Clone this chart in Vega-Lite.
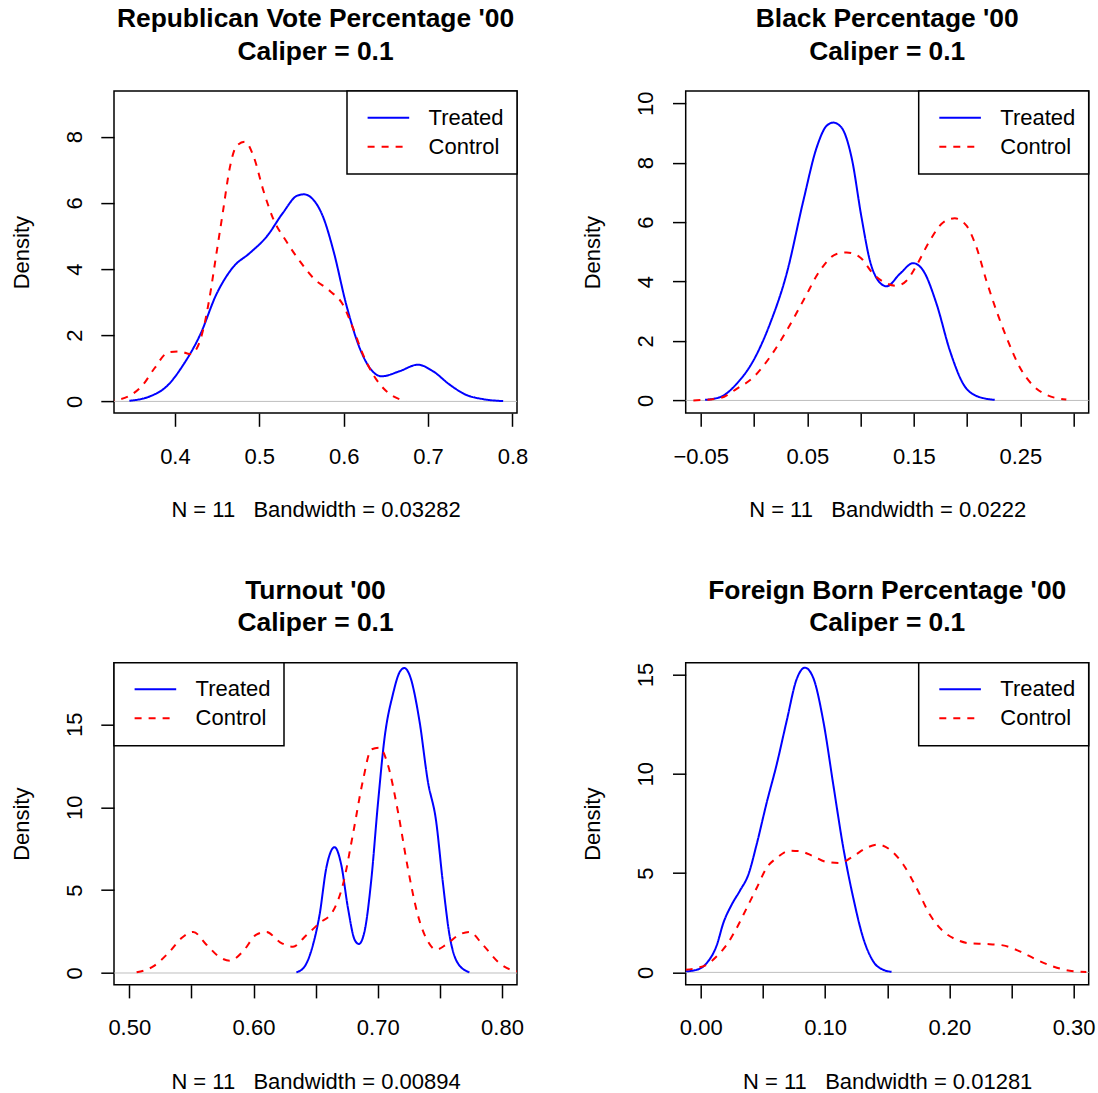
{
"$schema": "https://vega.github.io/schema/vega-lite/v6.json",
"padding": {"left": 9, "top": 5.1, "right": 8, "bottom": 0},
"datasets": {
"p1": [
{"g":"Treated","x":0.346,"y":0.02},{"g":"Treated","x":0.370,"y":0.15},{"g":"Treated","x":0.390,"y":0.45},{"g":"Treated","x":0.410,"y":1.11},{"g":"Treated","x":0.430,"y":2.02},{"g":"Treated","x":0.449,"y":3.23},{"g":"Treated","x":0.469,"y":4.06},{"g":"Treated","x":0.489,"y":4.49},{"g":"Treated","x":0.509,"y":4.99},{"g":"Treated","x":0.528,"y":5.70},{"g":"Treated","x":0.545,"y":6.22},{"g":"Treated","x":0.553,"y":6.26},{"g":"Treated","x":0.562,"y":6.15},{"g":"Treated","x":0.576,"y":5.55},{"g":"Treated","x":0.588,"y":4.54},{"g":"Treated","x":0.603,"y":2.93},{"g":"Treated","x":0.619,"y":1.61},{"g":"Treated","x":0.631,"y":1.01},{"g":"Treated","x":0.645,"y":0.76},{"g":"Treated","x":0.666,"y":0.91},{"g":"Treated","x":0.688,"y":1.11},{"g":"Treated","x":0.706,"y":0.91},{"g":"Treated","x":0.726,"y":0.50},{"g":"Treated","x":0.745,"y":0.20},{"g":"Treated","x":0.765,"y":0.07},{"g":"Treated","x":0.789,"y":0.01},
{"g":"Control","x":0.320,"y":0.01},{"g":"Control","x":0.327,"y":0.03},{"g":"Control","x":0.347,"y":0.18},{"g":"Control","x":0.362,"y":0.50},{"g":"Control","x":0.376,"y":1.01},{"g":"Control","x":0.392,"y":1.48},{"g":"Control","x":0.406,"y":1.51},{"g":"Control","x":0.418,"y":1.43},{"g":"Control","x":0.426,"y":1.61},{"g":"Control","x":0.434,"y":2.22},{"g":"Control","x":0.441,"y":3.13},{"g":"Control","x":0.449,"y":4.44},{"g":"Control","x":0.457,"y":5.75},{"g":"Control","x":0.465,"y":7.06},{"g":"Control","x":0.473,"y":7.72},{"g":"Control","x":0.483,"y":7.85},{"g":"Control","x":0.493,"y":7.42},{"g":"Control","x":0.505,"y":6.36},{"g":"Control","x":0.516,"y":5.55},{"g":"Control","x":0.532,"y":4.84},{"g":"Control","x":0.548,"y":4.24},{"g":"Control","x":0.564,"y":3.73},{"g":"Control","x":0.584,"y":3.33},{"g":"Control","x":0.599,"y":2.93},{"g":"Control","x":0.611,"y":2.22},{"g":"Control","x":0.623,"y":1.41},{"g":"Control","x":0.635,"y":0.81},{"g":"Control","x":0.651,"y":0.30},{"g":"Control","x":0.666,"y":0.07},{"g":"Control","x":0.674,"y":0.02}
],
"p2": [
{"g":"Treated","x":-0.0459,"y":0.02},{"g":"Treated","x":-0.0319,"y":0.11},{"g":"Treated","x":-0.0163,"y":0.56},{"g":"Treated","x":-0.0006,"y":1.34},{"g":"Treated","x":0.0150,"y":2.58},{"g":"Treated","x":0.0306,"y":4.26},{"g":"Treated","x":0.0463,"y":6.72},{"g":"Treated","x":0.0588,"y":8.51},{"g":"Treated","x":0.0681,"y":9.24},{"g":"Treated","x":0.0744,"y":9.35},{"g":"Treated","x":0.0822,"y":9.18},{"g":"Treated","x":0.0916,"y":8.17},{"g":"Treated","x":0.1009,"y":6.16},{"g":"Treated","x":0.1088,"y":4.70},{"g":"Treated","x":0.1166,"y":4.03},{"g":"Treated","x":0.1244,"y":3.84},{"g":"Treated","x":0.1369,"y":4.26},{"g":"Treated","x":0.1494,"y":4.62},{"g":"Treated","x":0.1588,"y":4.37},{"g":"Treated","x":0.1713,"y":3.25},{"g":"Treated","x":0.1838,"y":1.68},{"g":"Treated","x":0.1963,"y":0.56},{"g":"Treated","x":0.2088,"y":0.15},{"g":"Treated","x":0.2259,"y":0.02},
{"g":"Control","x":-0.0569,"y":0.0},{"g":"Control","x":-0.0319,"y":0.08},{"g":"Control","x":-0.0163,"y":0.39},{"g":"Control","x":-0.0006,"y":0.78},{"g":"Control","x":0.0150,"y":1.46},{"g":"Control","x":0.0306,"y":2.35},{"g":"Control","x":0.0463,"y":3.36},{"g":"Control","x":0.0619,"y":4.37},{"g":"Control","x":0.0775,"y":4.93},{"g":"Control","x":0.0869,"y":4.98},{"g":"Control","x":0.0994,"y":4.82},{"g":"Control","x":0.1119,"y":4.26},{"g":"Control","x":0.1244,"y":3.94},{"g":"Control","x":0.1338,"y":3.86},{"g":"Control","x":0.1431,"y":4.03},{"g":"Control","x":0.1525,"y":4.54},{"g":"Control","x":0.1650,"y":5.38},{"g":"Control","x":0.1775,"y":5.99},{"g":"Control","x":0.1884,"y":6.13},{"g":"Control","x":0.1994,"y":5.88},{"g":"Control","x":0.2088,"y":5.15},{"g":"Control","x":0.2181,"y":4.03},{"g":"Control","x":0.2275,"y":3.02},{"g":"Control","x":0.2369,"y":2.13},{"g":"Control","x":0.2494,"y":1.12},{"g":"Control","x":0.2619,"y":0.50},{"g":"Control","x":0.2744,"y":0.19},{"g":"Control","x":0.2931,"y":0.03}
],
"p3": [
{"g":"Treated","x":0.6345,"y":0.04},{"g":"Treated","x":0.6412,"y":0.40},{"g":"Treated","x":0.6479,"y":1.71},{"g":"Treated","x":0.6532,"y":3.52},{"g":"Treated","x":0.6586,"y":6.34},{"g":"Treated","x":0.6653,"y":7.59},{"g":"Treated","x":0.6706,"y":6.54},{"g":"Treated","x":0.6760,"y":3.93},{"g":"Treated","x":0.6814,"y":2.01},{"g":"Treated","x":0.6848,"y":1.75},{"g":"Treated","x":0.6894,"y":2.52},{"g":"Treated","x":0.6947,"y":5.54},{"g":"Treated","x":0.7001,"y":10.17},{"g":"Treated","x":0.7055,"y":14.19},{"g":"Treated","x":0.7122,"y":16.81},{"g":"Treated","x":0.7180,"y":18.20},{"g":"Treated","x":0.7215,"y":18.40},{"g":"Treated","x":0.7255,"y":18.00},{"g":"Treated","x":0.7336,"y":15.20},{"g":"Treated","x":0.7403,"y":11.58},{"g":"Treated","x":0.7470,"y":9.16},{"g":"Treated","x":0.7523,"y":5.54},{"g":"Treated","x":0.7577,"y":2.32},{"g":"Treated","x":0.7644,"y":0.60},{"g":"Treated","x":0.7738,"y":0.04},
{"g":"Control","x":0.5059,"y":0.04},{"g":"Control","x":0.5193,"y":0.40},{"g":"Control","x":0.5327,"y":1.31},{"g":"Control","x":0.5421,"y":2.11},{"g":"Control","x":0.5514,"y":2.48},{"g":"Control","x":0.5621,"y":1.71},{"g":"Control","x":0.5729,"y":0.95},{"g":"Control","x":0.5809,"y":0.74},{"g":"Control","x":0.5916,"y":1.31},{"g":"Control","x":0.6023,"y":2.32},{"g":"Control","x":0.6104,"y":2.48},{"g":"Control","x":0.6211,"y":1.87},{"g":"Control","x":0.6318,"y":1.59},{"g":"Control","x":0.6425,"y":2.28},{"g":"Control","x":0.6532,"y":3.02},{"g":"Control","x":0.6639,"y":3.72},{"g":"Control","x":0.6720,"y":5.34},{"g":"Control","x":0.6800,"y":8.36},{"g":"Control","x":0.6880,"y":11.58},{"g":"Control","x":0.6948,"y":13.49},{"g":"Control","x":0.7014,"y":13.59},{"g":"Control","x":0.7081,"y":12.58},{"g":"Control","x":0.7162,"y":9.76},{"g":"Control","x":0.7242,"y":6.34},{"g":"Control","x":0.7322,"y":3.52},{"g":"Control","x":0.7403,"y":1.91},{"g":"Control","x":0.7470,"y":1.41},{"g":"Control","x":0.7550,"y":1.71},{"g":"Control","x":0.7657,"y":2.32},{"g":"Control","x":0.7738,"y":2.48},{"g":"Control","x":0.7845,"y":1.71},{"g":"Control","x":0.7979,"y":0.60},{"g":"Control","x":0.8121,"y":0.10},{"g":"Control","x":0.8220,"y":0.04}
],
"p4": [
{"g":"Treated","x":-0.0121,"y":0.05},{"g":"Treated","x":-0.0032,"y":0.13},{"g":"Treated","x":0.0048,"y":0.47},{"g":"Treated","x":0.0129,"y":1.37},{"g":"Treated","x":0.0182,"y":2.49},{"g":"Treated","x":0.0249,"y":3.41},{"g":"Treated","x":0.0316,"y":4.12},{"g":"Treated","x":0.0383,"y":4.92},{"g":"Treated","x":0.0450,"y":6.45},{"g":"Treated","x":0.0530,"y":8.53},{"g":"Treated","x":0.0611,"y":10.47},{"g":"Treated","x":0.0691,"y":12.65},{"g":"Treated","x":0.0771,"y":14.75},{"g":"Treated","x":0.0838,"y":15.34},{"g":"Treated","x":0.0905,"y":14.83},{"g":"Treated","x":0.0986,"y":12.65},{"g":"Treated","x":0.1066,"y":9.46},{"g":"Treated","x":0.1147,"y":6.27},{"g":"Treated","x":0.1227,"y":3.75},{"g":"Treated","x":0.1307,"y":1.73},{"g":"Treated","x":0.1388,"y":0.55},{"g":"Treated","x":0.1468,"y":0.13},{"g":"Treated","x":0.1535,"y":0.03},
{"g":"Control","x":-0.0121,"y":0.13},{"g":"Control","x":-0.0032,"y":0.22},{"g":"Control","x":0.0048,"y":0.39},{"g":"Control","x":0.0129,"y":0.81},{"g":"Control","x":0.0209,"y":1.39},{"g":"Control","x":0.0289,"y":2.23},{"g":"Control","x":0.0370,"y":3.24},{"g":"Control","x":0.0450,"y":4.25},{"g":"Control","x":0.0530,"y":5.26},{"g":"Control","x":0.0611,"y":5.76},{"g":"Control","x":0.0718,"y":6.13},{"g":"Control","x":0.0798,"y":6.10},{"g":"Control","x":0.0905,"y":5.85},{"g":"Control","x":0.1013,"y":5.56},{"g":"Control","x":0.1120,"y":5.51},{"g":"Control","x":0.1227,"y":5.85},{"g":"Control","x":0.1334,"y":6.27},{"g":"Control","x":0.1428,"y":6.43},{"g":"Control","x":0.1522,"y":6.18},{"g":"Control","x":0.1629,"y":5.43},{"g":"Control","x":0.1736,"y":4.25},{"g":"Control","x":0.1843,"y":2.91},{"g":"Control","x":0.1950,"y":2.07},{"g":"Control","x":0.2057,"y":1.65},{"g":"Control","x":0.2164,"y":1.46},{"g":"Control","x":0.2298,"y":1.43},{"g":"Control","x":0.2432,"y":1.36},{"g":"Control","x":0.2566,"y":1.06},{"g":"Control","x":0.2700,"y":0.64},{"g":"Control","x":0.2834,"y":0.30},{"g":"Control","x":0.2968,"y":0.08},{"g":"Control","x":0.3102,"y":0.02}
]
},
"spacing": 571.6,
"bounds": "flush",
"resolve": {"scale": {"x": "independent", "y": "independent", "color": "independent", "strokeDash": "independent"}, "legend": {"color": "independent", "strokeDash": "independent"}},
"vconcat": [
{
"hconcat": [
{
"width": 403, "height": 322,
"title": {"text": ["Republican Vote Percentage '00", "Caliper = 0.1"]},
"layer": [
{"data": {"values": [{}]}, "mark": {"type": "rule", "color": "#BEBEBE", "strokeWidth": 1}, "encoding": {"y": {"datum": 0, "type": "quantitative", "scale": {"domain": [-0.353, 9.38], "nice": false, "zero": false}, "axis": {"values": [0, 2, 4, 6, 8], "title": "Density"}}}},
{"data": {"name": "p1"}, "mark": {"type": "line", "clip": true, "strokeWidth": 2, "interpolate": "monotone"},
"encoding": {
"x": {"field": "x", "type": "quantitative", "scale": {"domain": [0.3278, 0.8054], "nice": false, "zero": false}, "axis": {"values": [0.4, 0.5, 0.6, 0.7, 0.8], "format": ".1f", "title": "N = 11\u00a0\u00a0\u00a0Bandwidth = 0.03282"}},
"y": {"field": "y", "type": "quantitative", "scale": {"domain": [-0.353, 9.38], "nice": false, "zero": false}, "axis": {"values": [0, 2, 4, 6, 8], "title": "Density"}},
"color": {"field": "g", "type": "nominal", "scale": {"domain": ["Treated", "Control"], "range": ["#0000FF", "#FF0000"]}, "legend": {"orient": "top-right"}},
"strokeDash": {"field": "g", "type": "nominal", "scale": {"domain": ["Treated", "Control"], "range": [[1, 0], [7, 7]]}, "legend": {"orient": "top-right"}}
}}
]
},
{
"width": 403, "height": 322,
"title": {"text": ["Black Percentage '00", "Caliper = 0.1"]},
"layer": [
{"data": {"values": [{}]}, "mark": {"type": "rule", "color": "#BEBEBE", "strokeWidth": 1}, "encoding": {"y": {"datum": 0, "type": "quantitative", "scale": {"domain": [-0.426, 10.41], "nice": false, "zero": false}, "axis": {"values": [0, 2, 4, 6, 8, 10], "title": "Density"}}}},
{"data": {"name": "p2"}, "mark": {"type": "line", "clip": true, "strokeWidth": 2, "interpolate": "monotone"},
"encoding": {
"x": {"field": "x", "type": "quantitative", "scale": {"domain": [-0.0641, 0.3141], "nice": false, "zero": false}, "axis": {"values": [-0.05, 0, 0.05, 0.1, 0.15, 0.2, 0.25, 0.3], "labelExpr": "abs(round(datum.value*100)) % 10 == 5 ? format(datum.value, '.2f') : ''", "title": "N = 11\u00a0\u00a0\u00a0Bandwidth = 0.0222"}},
"y": {"field": "y", "type": "quantitative", "scale": {"domain": [-0.426, 10.41], "nice": false, "zero": false}, "axis": {"values": [0, 2, 4, 6, 8, 10], "title": "Density"}},
"color": {"field": "g", "type": "nominal", "scale": {"domain": ["Treated", "Control"], "range": ["#0000FF", "#FF0000"]}, "legend": {"orient": "top-right"}},
"strokeDash": {"field": "g", "type": "nominal", "scale": {"domain": ["Treated", "Control"], "range": [[1, 0], [7, 7]]}, "legend": {"orient": "top-right"}}
}}
]
}
],
"spacing": 168.7,
"bounds": "flush",
"resolve": {"scale": {"x": "independent", "y": "independent", "color": "independent", "strokeDash": "independent"}, "legend": {"color": "independent", "strokeDash": "independent"}}
},
{
"hconcat": [
{
"width": 403, "height": 322,
"title": {"text": ["Turnout '00", "Caliper = 0.1"]},
"layer": [
{"data": {"values": [{}]}, "mark": {"type": "rule", "color": "#BEBEBE", "strokeWidth": 1}, "encoding": {"y": {"datum": 0, "type": "quantitative", "scale": {"domain": [-0.705, 18.72], "nice": false, "zero": false}, "axis": {"values": [0, 5, 10, 15], "title": "Density"}}}},
{"data": {"name": "p3"}, "mark": {"type": "line", "clip": true, "strokeWidth": 2, "interpolate": "monotone"},
"encoding": {
"x": {"field": "x", "type": "quantitative", "scale": {"domain": [0.4877, 0.8121], "nice": false, "zero": false}, "axis": {"values": [0.5, 0.55, 0.6, 0.65, 0.7, 0.75, 0.8], "labelExpr": "round(datum.value*100) % 10 == 0 ? format(datum.value, '.2f') : ''", "title": "N = 11\u00a0\u00a0\u00a0Bandwidth = 0.00894"}},
"y": {"field": "y", "type": "quantitative", "scale": {"domain": [-0.705, 18.72], "nice": false, "zero": false}, "axis": {"values": [0, 5, 10, 15], "title": "Density"}},
"color": {"field": "g", "type": "nominal", "scale": {"domain": ["Treated", "Control"], "range": ["#0000FF", "#FF0000"]}, "legend": {"orient": "top-left"}},
"strokeDash": {"field": "g", "type": "nominal", "scale": {"domain": ["Treated", "Control"], "range": [[1, 0], [7, 7]]}, "legend": {"orient": "top-left"}}
}}
]
},
{
"width": 403, "height": 322,
"title": {"text": ["Foreign Born Percentage '00", "Caliper = 0.1"]},
"layer": [
{"data": {"values": [{}]}, "mark": {"type": "rule", "color": "#BEBEBE", "strokeWidth": 1}, "encoding": {"y": {"datum": 0, "type": "quantitative", "scale": {"domain": [-0.62, 15.59], "nice": false, "zero": false}, "axis": {"values": [0, 5, 10, 15], "title": "Density"}}}},
{"data": {"name": "p4"}, "mark": {"type": "line", "clip": true, "strokeWidth": 2, "interpolate": "monotone"},
"encoding": {
"x": {"field": "x", "type": "quantitative", "scale": {"domain": [-0.0121, 0.3121], "nice": false, "zero": false}, "axis": {"values": [0, 0.05, 0.1, 0.15, 0.2, 0.25, 0.3], "labelExpr": "round(datum.value*100) % 10 == 0 ? format(datum.value, '.2f') : ''", "title": "N = 11\u00a0\u00a0\u00a0Bandwidth = 0.01281"}},
"y": {"field": "y", "type": "quantitative", "scale": {"domain": [-0.62, 15.59], "nice": false, "zero": false}, "axis": {"values": [0, 5, 10, 15], "title": "Density"}},
"color": {"field": "g", "type": "nominal", "scale": {"domain": ["Treated", "Control"], "range": ["#0000FF", "#FF0000"]}, "legend": {"orient": "top-right"}},
"strokeDash": {"field": "g", "type": "nominal", "scale": {"domain": ["Treated", "Control"], "range": [[1, 0], [7, 7]]}, "legend": {"orient": "top-right"}}
}}
]
}
],
"spacing": 168.7,
"bounds": "flush",
"resolve": {"scale": {"x": "independent", "y": "independent", "color": "independent", "strokeDash": "independent"}, "legend": {"color": "independent", "strokeDash": "independent"}}
}
],
"config": {
"font": "Liberation Sans",
"background": "white",
"view": {"stroke": "black", "strokeWidth": 1.5},
"axis": {"grid": false, "domain": false, "ticks": true, "tickColor": "black", "tickWidth": 1.5, "tickSize": 13.2, "labelFont": "Liberation Sans", "labelFontSize": 22, "labelColor": "black", "titleFont": "Liberation Sans", "titleFontSize": 22, "titleFontWeight": "normal", "titleColor": "black", "labelFlush": false, "labelOverlap": false},
"axisX": {"labelBaseline": "alphabetic", "labelAlign": "center", "labelPadding": 36.8, "titleBaseline": "alphabetic", "titleAlign": "center", "titleX": 201.5, "titleY": 103.4},
"axisY": {"labelAngle": 270, "labelAlign": "center", "labelBaseline": "alphabetic", "labelPadding": 19.8, "titleAngle": 270, "titleBaseline": "alphabetic", "titleAlign": "center", "titleX": -85.8, "titleY": 161},
"title": {"font": "Liberation Sans", "fontSize": 26.4, "fontWeight": "bold", "color": "black", "anchor": "middle", "offset": 25.2, "lineHeight": 32.7, "baseline": "alphabetic"},
"legend": {"title": null, "labelFont": "Liberation Sans", "labelFontSize": 22, "labelColor": "black", "symbolType": "stroke", "symbolSize": 1730, "symbolStrokeWidth": 2, "strokeColor": "black", "strokeWidth": 1.5, "padding": 12.4, "offset": 0, "rowPadding": 0, "clipHeight": 28.3, "labelOffset": 18.2, "symbolOffset": 7, "fillColor": "white"}
}
}
